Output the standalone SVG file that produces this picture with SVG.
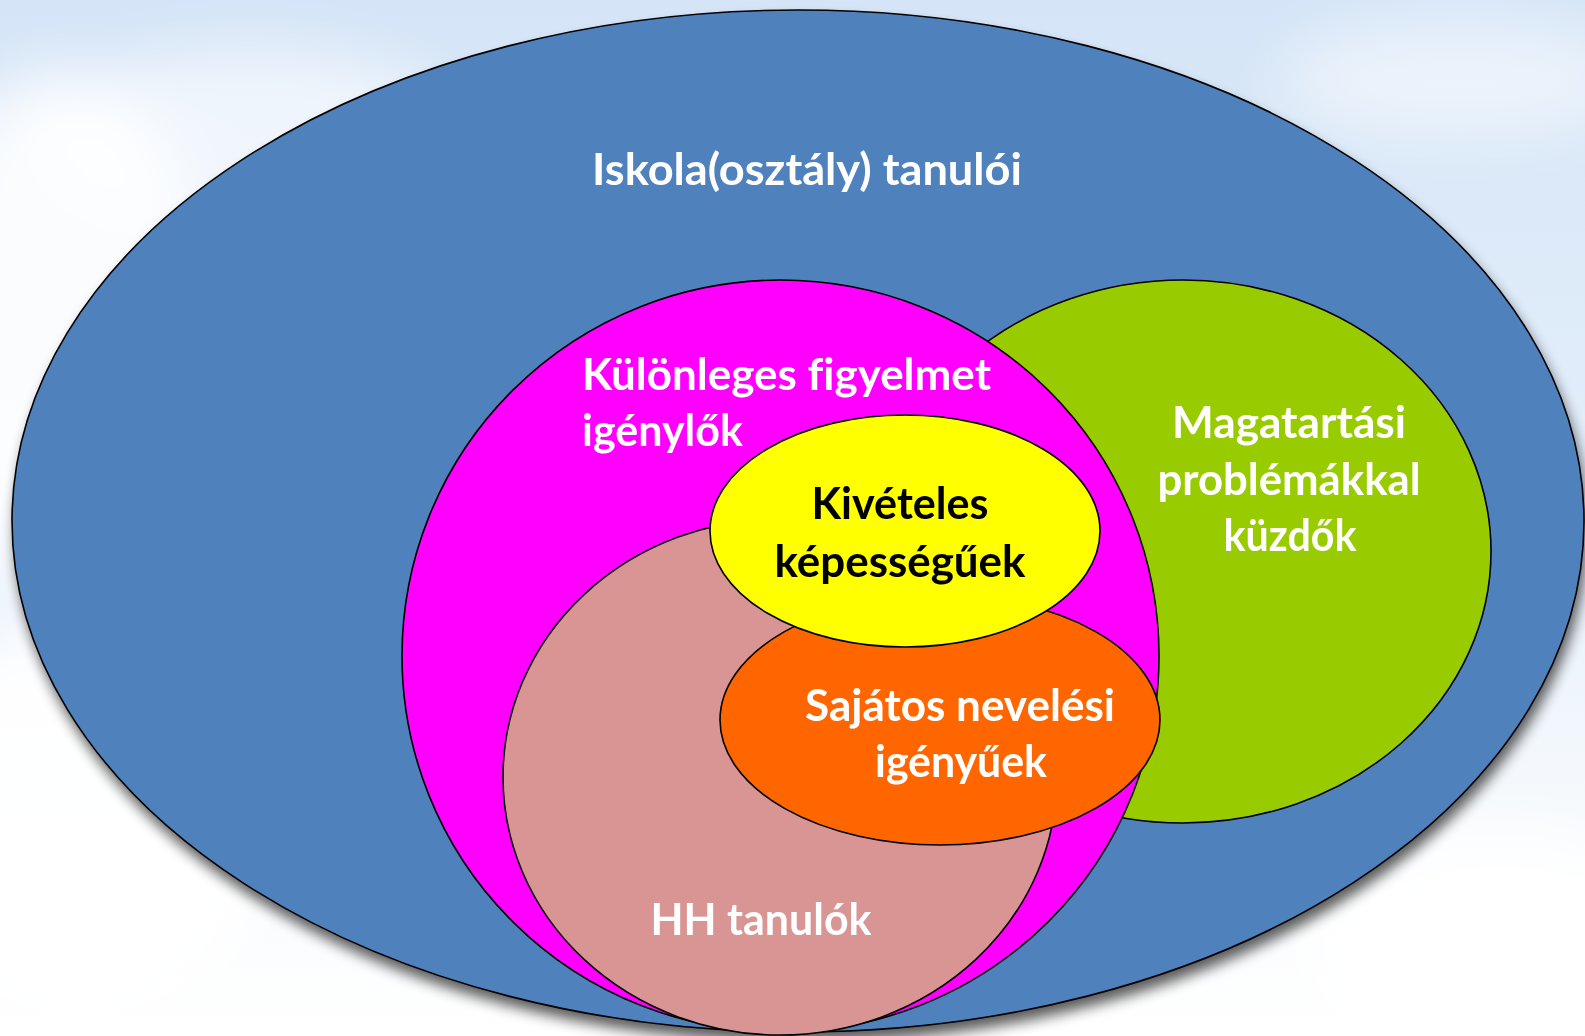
<svg xmlns="http://www.w3.org/2000/svg" width="1585" height="1036" viewBox="0 0 1585 1036">
  <defs>
    <linearGradient id="sky" x1="0" y1="0" x2="0" y2="1">
      <stop offset="0" stop-color="#d5e5f7"/>
      <stop offset="0.45" stop-color="#e3eefa"/>
      <stop offset="0.8" stop-color="#f7fafd"/>
      <stop offset="1" stop-color="#ffffff"/>
    </linearGradient>
    <filter id="cloud" x="-50%" y="-50%" width="200%" height="200%">
      <feGaussianBlur stdDeviation="30"/>
    </filter>
    <filter id="shadow" x="-10%" y="-10%" width="120%" height="120%">
      <feGaussianBlur stdDeviation="7"/>
    </filter>
    <style>
      .set { stroke: #000000; stroke-width: 1.6; }
      .lbl { font-family: "Lato", "Open Sans", "Liberation Sans", sans-serif; font-weight: bold; font-size: 43px; font-variant-ligatures: none; }
      .w { fill: #ffffff; }
      .k { fill: #000000; }
    </style>
  </defs>

  <g id="background">
    <rect x="0" y="0" width="1585" height="1036" fill="url(#sky)"/>
    <g filter="url(#cloud)" fill="#ffffff">
      <ellipse cx="60" cy="330" rx="150" ry="260" opacity="0.85"/>
      <ellipse cx="250" cy="140" rx="220" ry="90" opacity="0.6"/>
      <ellipse cx="80" cy="820" rx="200" ry="200" opacity="0.9"/>
      <ellipse cx="1460" cy="80" rx="180" ry="60" opacity="0.5"/>
      <ellipse cx="1500" cy="950" rx="200" ry="120" opacity="0.9"/>
    </g>
  </g>

  <ellipse id="blue-shadow" cx="801" cy="531" rx="786" ry="511" fill="#000000" opacity="0.65" filter="url(#shadow)"/>

  <g id="iskola">
    <ellipse class="set" cx="798" cy="521" rx="786" ry="511" fill="#4f81bd"/>
    <text class="lbl w" x="807" y="185" text-anchor="middle" textLength="430" lengthAdjust="spacingAndGlyphs">Iskola(osztály) tanulói</text>
  </g>

  <g id="magatartasi">
    <ellipse class="set" cx="1183" cy="551.5" rx="308" ry="271.5" fill="#99cc00"/>
    <text class="lbl w" x="1289" y="438" text-anchor="middle" textLength="234" lengthAdjust="spacingAndGlyphs">Magatartási</text>
    <text class="lbl w" x="1289" y="495" text-anchor="middle" textLength="263" lengthAdjust="spacingAndGlyphs">problémákkal</text>
    <text class="lbl w" x="1290" y="551" text-anchor="middle" textLength="133" lengthAdjust="spacingAndGlyphs">küzdők</text>
  </g>

  <g id="kulonleges">
    <ellipse class="set" cx="780.5" cy="656" rx="378.5" ry="376" fill="#ff00ff"/>
    <text class="lbl w" x="582" y="390" textLength="409" lengthAdjust="spacingAndGlyphs">Különleges figyelmet</text>
    <text class="lbl w" x="582" y="446" textLength="161" lengthAdjust="spacingAndGlyphs">igénylők</text>
  </g>

  <g id="hh">
    <ellipse class="set" cx="780" cy="777" rx="277" ry="258" fill="#d99594"/>
    <text class="lbl w" x="761" y="935" text-anchor="middle" textLength="221" lengthAdjust="spacingAndGlyphs">HH tanulók</text>
  </g>

  <g id="sajatos">
    <ellipse class="set" cx="940" cy="720" rx="220" ry="125" fill="#ff6600"/>
    <text class="lbl w" x="960" y="721" text-anchor="middle" textLength="310" lengthAdjust="spacingAndGlyphs">Sajátos nevelési</text>
    <text class="lbl w" x="961" y="777" text-anchor="middle" textLength="172" lengthAdjust="spacingAndGlyphs">igényűek</text>
  </g>

  <g id="kiveteles">
    <ellipse class="set" cx="905" cy="531" rx="195" ry="116" fill="#ffff00"/>
    <text class="lbl k" x="900" y="519" text-anchor="middle" textLength="177" lengthAdjust="spacingAndGlyphs">Kivételes</text>
    <text class="lbl k" x="900" y="577" text-anchor="middle" textLength="251" lengthAdjust="spacingAndGlyphs">képességűek</text>
  </g>
</svg>
